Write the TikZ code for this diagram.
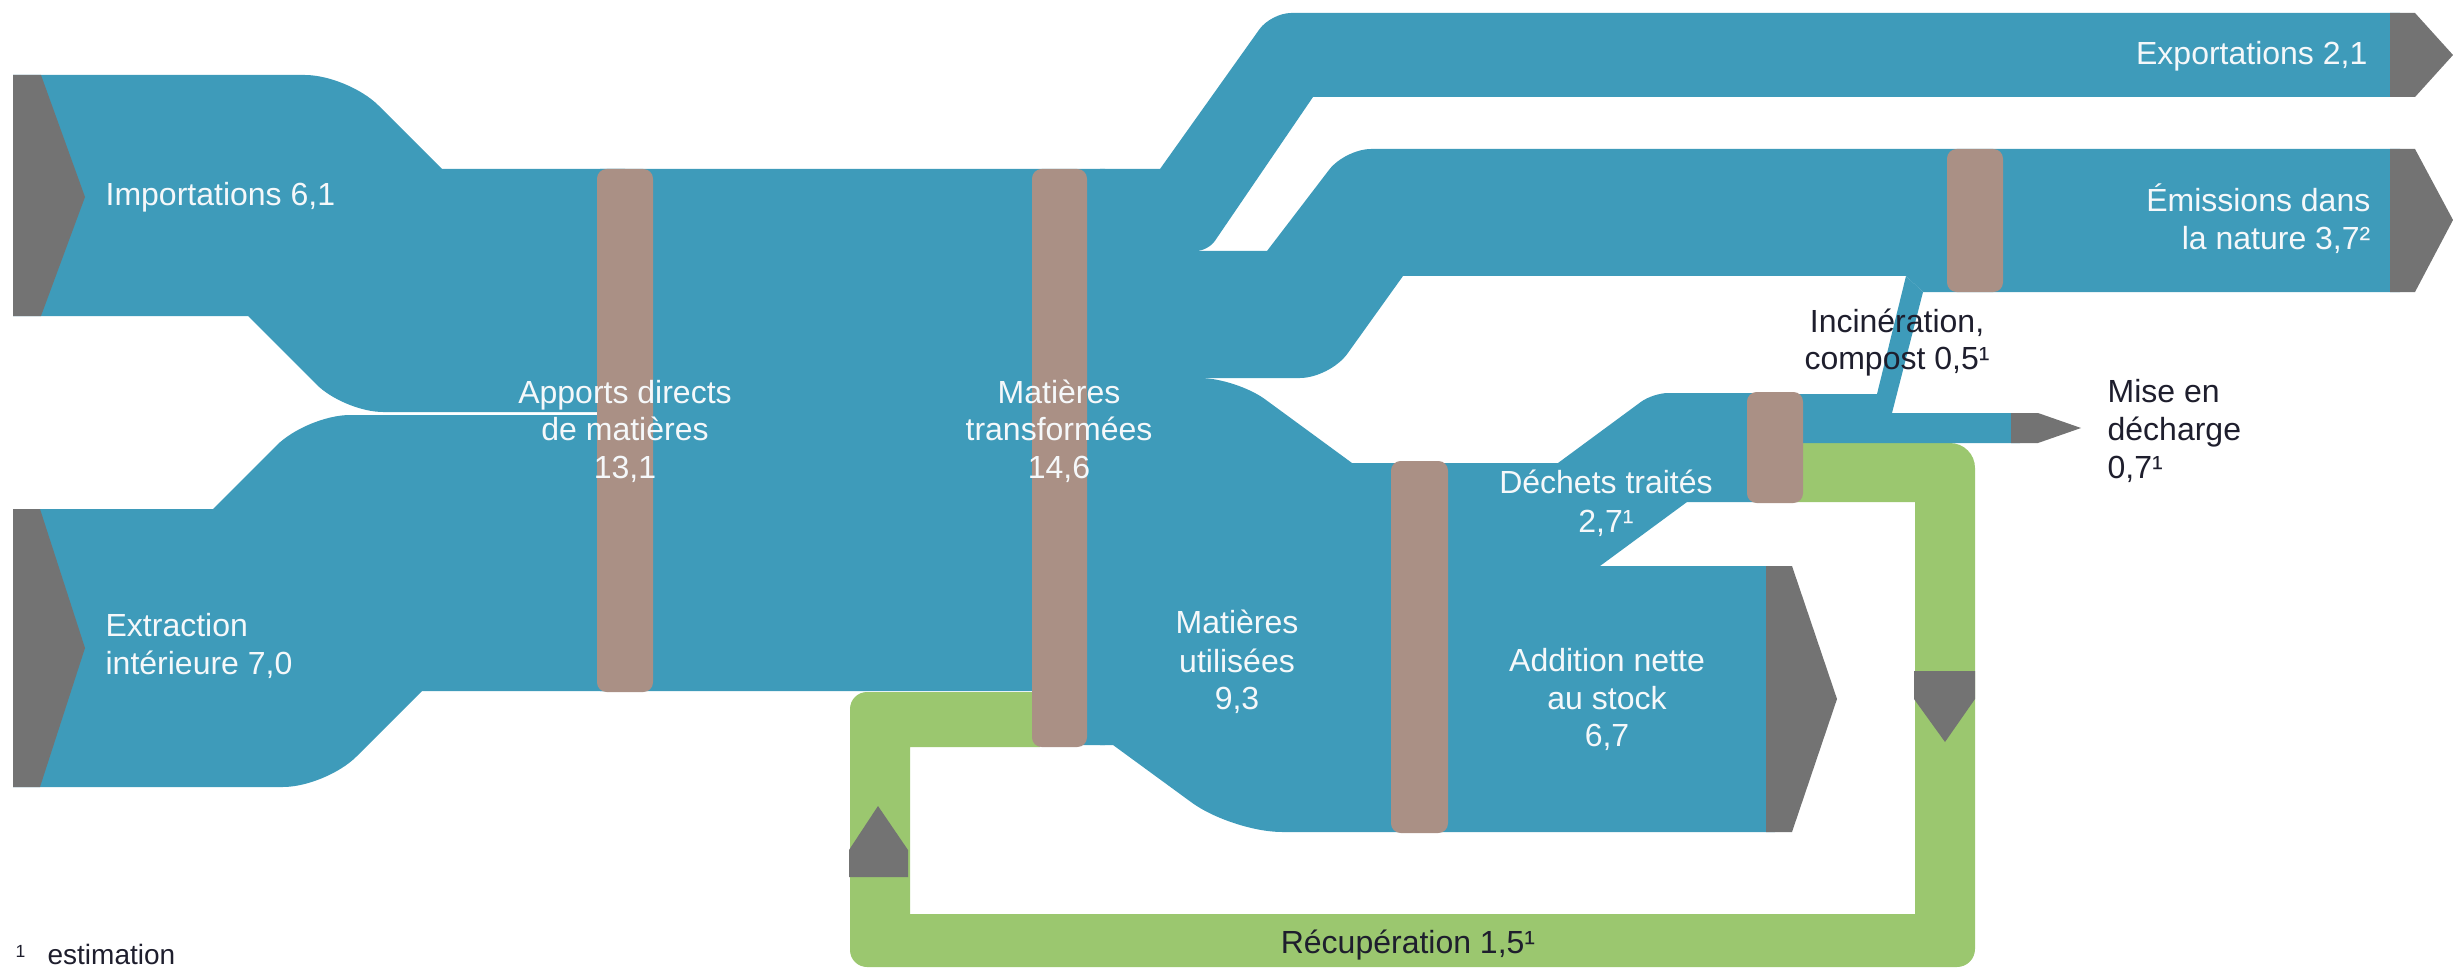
\documentclass[tikz,border=0pt]{standalone}
\usepackage{fontspec}
\setmainfont{Liberation Sans}
\usetikzlibrary{calc}
\definecolor{flowblue}{RGB}{62,155,186}
\definecolor{barbrown}{RGB}{170,144,133}
\definecolor{loopgreen}{RGB}{155,199,111}
\definecolor{arrowgray}{RGB}{115,115,115}
\definecolor{darktext}{RGB}{30,30,45}
\definecolor{lighttext}{RGB}{245,248,250}
\tikzset{
  rc/.style n args={4}{insert path={-- ($(#2)!#4*0.3125pt!(#1)$) .. controls ($(#2)!#4*0.14pt!(#1)$) and ($(#2)!#4*0.14pt!(#3)$) .. ($(#2)!#4*0.3125pt!(#3)$)}},
  flow/.style={fill=flowblue},
  loopband/.style={fill=loopgreen},
  tipshape/.style={fill=arrowgray},
  barbox/.style={fill=barbrown, rounded corners=3pt},
  wlbl/.style={text=lighttext, inner sep=0pt, font=\fontsize{10}{12}\selectfont},
  dlbl/.style={text=darktext, inner sep=0pt, font=\fontsize{10}{12}\selectfont},
}
\begin{document}
\begin{tikzpicture}[x=0.3125pt,y=-0.3125pt]
\useasboundingbox (0,0) rectangle (2453,969);
% green recovery loop
\fill[loopband] (1790,443) [rc={1790,443}{1975,443}{1975,967}{25}] [rc={1975,443}{1975,967}{850,967}{18}] [rc={1975,967}{850,967}{850,692}{17}] [rc={850,967}{850,692}{1040,692}{17}] -- (1040,692) -- (1040,747) -- (910,747) -- (910,914) -- (1915,914) -- (1915,502) -- (1790,502) -- cycle;
% imports
\fill[flow] (13,75) [rc={13,75}{348,75}{442,169}{43}] -- (442,169) -- (625,169) -- (625,412) [rc={625,412}{344,412}{248,316}{39}] -- (248,316) -- (13,316) -- cycle;
% domestic extraction
\fill[flow] (13,509) -- (213,509) [rc={213,509}{307,415}{625,415}{43}] -- (625,415) -- (625,691) -- (422,691) [rc={422,691}{326,787}{13,787}{43}] -- (13,787) -- cycle;
% trunk
\fill[flow] (600,169) -- (1105,169) -- (1105,745) -- (1060,745) -- (1060,691) -- (600,691) -- cycle;
% exports
\fill[flow] (1100,169) -- (1160,169) [rc={1160,169}{1271,13}{2400,13}{20}] -- (2400,13) -- (2400,97) -- (1313,97) [rc={1313,97}{1208,251}{1100,251}{12}] -- (1100,251) -- cycle;
% emissions
\fill[flow] (1100,251) -- (1267,251) [rc={1267,251}{1345,149}{2400,149}{26}] -- (2400,149) -- (2400,292) -- (1923,292) -- (1906,276) -- (1403,276) [rc={1403,276}{1330,378}{1100,378}{30}] -- (1100,378) -- cycle;
% incineration + landfill
\fill[flow] (1790,394) -- (1877,394) -- (1906,276) -- (1923,292) -- (1892,413) -- (2020,413) -- (2020,443) -- (1790,443) -- cycle;
% used materials, treated waste, net addition
\fill[flow] (1100,378) [rc={1100,378}{1236,378}{1352,463}{36}] -- (1352,463) -- (1558,463) [rc={1558,463}{1653,393}{1775,393}{15}] -- (1775,393) -- (1775,502) -- (1687,502) -- (1600,566) -- (1775,566) -- (1775,832) [rc={1775,832}{1232,832}{1113,745}{50}] -- (1113,745) -- (1100,745) -- cycle;
% grey arrow heads
\fill[tipshape] (13,75) -- (41,75) -- (85,197) -- (41,316) -- (13,316) -- cycle;
\fill[tipshape] (13,509) -- (40,509) -- (85,648) -- (40,787) -- (13,787) -- cycle;
\fill[tipshape] (2390,13) -- (2415,13) -- (2453,55) -- (2415,97) -- (2390,97) -- cycle;
\fill[tipshape] (2390,149) -- (2415,149) -- (2453,220) -- (2415,292) -- (2390,292) -- cycle;
\fill[tipshape] (1766,566) -- (1792,566) -- (1837,699) -- (1792,832) -- (1766,832) -- cycle;
\fill[tipshape] (2011,413) -- (2038,413) -- (2081,428) -- (2038,443) -- (2011,443) -- cycle;
\fill[tipshape] (849,877) -- (908,877) -- (908,850) -- (878,806) -- (849,850) -- cycle;
\fill[tipshape] (1914,671) -- (1975,671) -- (1975,699) -- (1945,742) -- (1914,699) -- cycle;
% process bars
\fill[barbox] (597,169) rectangle (653,692);
\fill[barbox] (1032,169) rectangle (1087,747);
\fill[barbox] (1391,461) rectangle (1448,833);
\fill[barbox] (1747,392) rectangle (1803,503);
\fill[barbox] (1947,149) rectangle (2003,292);
% labels
\node[wlbl, anchor=base west] (imp) at (105,206) {Importations 6,1};
\node[wlbl, anchor=base west] (extA) at (105,636) {Extraction};
\node[wlbl, anchor=base west] (extB) at (105,674) {intérieure 7,0};
\node[wlbl, anchor=base] (adA) at (625,403) {Apports directs};
\node[wlbl, anchor=base] (adB) at (625,440) {de matières};
\node[wlbl, anchor=base] (adC) at (625,478) {13,1};
\node[wlbl, anchor=base] (mtA) at (1059,403) {Matières};
\node[wlbl, anchor=base] (mtB) at (1059,440) {transformées};
\node[wlbl, anchor=base] (mtC) at (1059,478) {14,6};
\node[wlbl, anchor=base] (muA) at (1237,633) {Matières};
\node[wlbl, anchor=base] (muB) at (1237,672) {utilisées};
\node[wlbl, anchor=base] (muC) at (1237,709) {9,3};
\node[wlbl, anchor=base] (dtA) at (1606,493) {Déchets traités};
\node[wlbl, anchor=base] (dtB) at (1606,532) {2,7¹};
\node[wlbl, anchor=base] (anA) at (1607,671) {Addition nette};
\node[wlbl, anchor=base] (anB) at (1607,709) {au stock};
\node[wlbl, anchor=base] (anC) at (1607,746) {6,7};
\node[wlbl, anchor=base east] (expo) at (2368,65) {Exportations 2,1};
\node[wlbl, anchor=base east] (emA) at (2371,212) {Émissions dans};
\node[wlbl, anchor=base east] (emB) at (2371,250) {la nature 3,7²};
\node[dlbl, anchor=base] (inA) at (1897,332) {Incinération,};
\node[dlbl, anchor=base] (inB) at (1897,369) {compost 0,5¹};
\node[dlbl, anchor=base west] (mdA) at (2107,402) {Mise en};
\node[dlbl, anchor=base west] (mdB) at (2107,440) {décharge};
\node[dlbl, anchor=base west] (mdC) at (2107,478) {0,7¹};
\node[dlbl, anchor=base] (rec) at (1408,953) {Récupération 1,5¹};
\node[dlbl, anchor=base west, font=\fontsize{5.5}{6}\selectfont] (fnA) at (15,957) {1};
\node[dlbl, anchor=base west, font=\fontsize{8.75}{10}\selectfont] (fnB) at (47,964) {estimation};
\end{tikzpicture}
\end{document}
